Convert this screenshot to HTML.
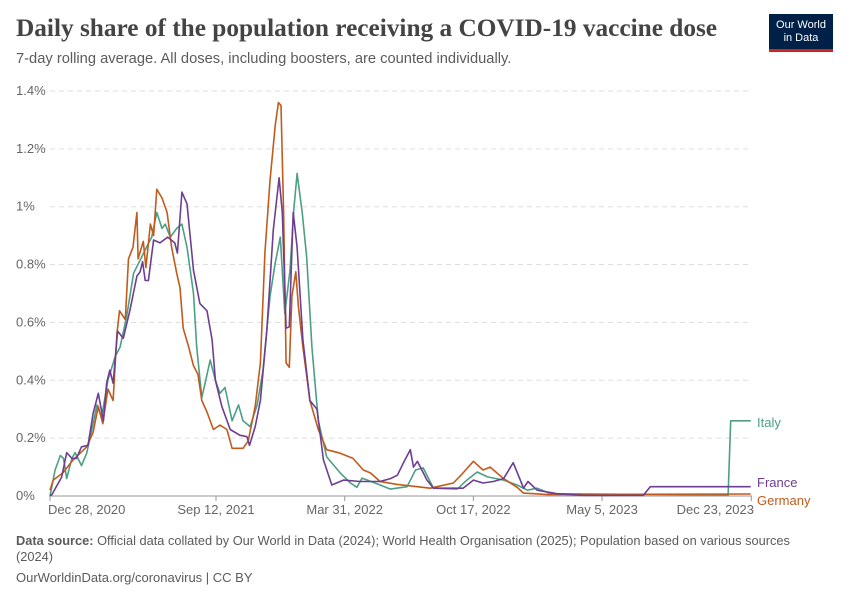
<!DOCTYPE html>
<html><head><meta charset="utf-8">
<style>
body{margin:0;width:850px;height:600px;background:#fff;font-family:"Liberation Sans",sans-serif;position:relative;overflow:hidden}
.t{position:absolute;white-space:nowrap}
</style></head><body>
<div class="t" style="left:16px;top:14px;font-family:'Liberation Serif',serif;font-weight:bold;font-size:25.3px;color:#444">Daily share of the population receiving a COVID-19 vaccine dose</div>
<div class="t" style="left:16px;top:51px;font-size:14.7px;color:#5b5b5b">7-day rolling average. All doses, including boosters, are counted individually.</div>
<div style="position:absolute;left:769px;top:14px;width:64px;height:38px;background:#002147;border-bottom:3px solid #ce261e;box-sizing:border-box;color:#fff;font-size:11px;line-height:13px;text-align:center;padding-top:5px">Our World<br>in Data</div>
<svg id="chart" width="850" height="600" style="position:absolute;left:0;top:0"></svg>
<div class="t" style="left:16px;top:533px;font-size:12.8px;color:#5b5b5b;white-space:normal;width:800px;line-height:16px"><b>Data source:</b> Official data collated by Our World in Data (2024); World Health Organisation (2025); Population based on various sources (2024)</div>
<div class="t" style="left:16px;top:570px;font-size:13px;color:#5b5b5b">OurWorldinData.org/coronavirus | CC BY</div>
<script>
const yTicks=[0,0.2,0.4,0.6,0.8,1,1.2,1.4];
const yTickLabels=["0%","0.2%","0.4%","0.6%","0.8%","1%","1.2%","1.4%"];
const xTickDays=[0,258,458,658,858,1090];
const xTickLabels=["Dec 28, 2020","Sep 12, 2021","Mar 31, 2022","Oct 17, 2022","May 5, 2023","Dec 23, 2023"];
const germanyDays=[0,5,20,36,57,67,75,82,90,98,104,108,117,122,129,135,137,145,149,156,161,166,174,182,189,197,202,207,215,223,230,236,244,254,264,275,283,300,308,319,327,334,342,350,355,359,363,367,372,376,382,386,393,404,417,430,451,471,487,498,513,540,591,627,642,658,673,684,705,726,736,773,1089];
const germanyVals=[0.02,0.055,0.08,0.125,0.17,0.22,0.31,0.25,0.37,0.33,0.56,0.64,0.61,0.82,0.86,0.98,0.82,0.88,0.79,0.94,0.9,1.06,1.03,0.98,0.86,0.77,0.72,0.58,0.52,0.45,0.42,0.33,0.29,0.23,0.245,0.23,0.165,0.165,0.19,0.31,0.46,0.84,1.09,1.28,1.36,1.35,0.98,0.46,0.445,0.69,0.775,0.655,0.515,0.33,0.23,0.16,0.148,0.13,0.09,0.08,0.05,0.04,0.027,0.045,0.08,0.12,0.09,0.1,0.06,0.03,0.01,0.005,0.007];
const franceDays=[0,3,18,26,34,41,49,59,67,75,83,88,93,98,105,114,124,135,140,144,148,153,161,171,183,194,198,205,213,223,233,244,252,257,267,280,295,306,310,319,327,337,347,356,361,367,372,378,384,393,404,415,425,438,456,482,513,529,540,549,560,565,571,586,596,642,658,673,689,705,720,731,736,743,757,788,829,922,933,1089];
const franceVals=[0,0.005,0.065,0.15,0.13,0.13,0.17,0.175,0.285,0.355,0.26,0.39,0.435,0.39,0.57,0.545,0.64,0.76,0.775,0.81,0.745,0.745,0.885,0.875,0.895,0.875,0.84,1.05,1.01,0.78,0.665,0.64,0.54,0.4,0.31,0.23,0.21,0.205,0.175,0.24,0.33,0.57,0.92,1.1,0.98,0.58,0.585,0.98,0.86,0.54,0.33,0.3,0.125,0.038,0.055,0.05,0.05,0.06,0.072,0.113,0.16,0.1,0.12,0.055,0.027,0.027,0.055,0.045,0.05,0.06,0.115,0.055,0.027,0.05,0.02,0.008,0.002,0.002,0.032,0.032];
const italyDays=[0,8,16,21,26,34,39,49,57,67,73,80,90,101,109,119,130,140,150,158,166,174,179,187,197,205,213,223,228,236,241,249,257,264,272,283,293,300,311,322,331,342,350,358,365,373,379,384,392,399,407,417,430,451,467,477,485,513,529,555,568,580,596,633,648,664,680,705,726,742,757,778,1054,1058,1089];
const italyVals=[0,0.09,0.14,0.13,0.06,0.13,0.15,0.105,0.148,0.25,0.315,0.27,0.4,0.48,0.515,0.62,0.77,0.815,0.86,0.895,0.98,0.925,0.94,0.895,0.925,0.94,0.86,0.7,0.515,0.34,0.39,0.47,0.4,0.355,0.375,0.26,0.315,0.26,0.24,0.315,0.435,0.69,0.805,0.895,0.63,0.78,0.99,1.115,0.98,0.825,0.515,0.26,0.135,0.08,0.045,0.03,0.062,0.038,0.024,0.032,0.09,0.097,0.027,0.024,0.055,0.083,0.066,0.055,0.038,0.02,0.027,0.008,0.003,0.26,0.26];
const NS="http://www.w3.org/2000/svg";
const svg=document.getElementById('chart');
const X=d=>50+d*0.6434;
const Y=v=>496-v*289.3;
function mk(tag,attrs){const e=document.createElementNS(NS,tag);for(const k in attrs)e.setAttribute(k,attrs[k]);svg.appendChild(e);return e;}
yTicks.forEach((v,i)=>{
  if(v>0){const g=mk('line',{x1:50,x2:752,y1:Y(v),y2:Y(v),stroke:'#ddd','stroke-dasharray':'5,4'});
  
  }
  const t=mk('text',{x:16,y:Y(v)+4,'font-size':13,fill:'#666','font-family':'Liberation Sans'});
  t.textContent=yTickLabels[i];
  
  
});
const ax=mk('line',{x1:50,x2:752,y1:496,y2:496,stroke:'#999'});


xTickDays.forEach((d,i)=>{
  const tk=mk('line',{x1:X(d),x2:X(d),y1:496,y2:501,stroke:'#999'});
  
  
  const anchor=i==0?'start':(i==xTickLabels.length-1?'end':'middle');
  const t=mk('text',{x:i==0?48:(i==xTickLabels.length-1?754:X(d)),y:514,'font-size':13,fill:'#666','text-anchor':anchor,'font-family':'Liberation Sans'});
  t.textContent=xTickLabels[i];
  
  
});
function series(days,vals,color,name,label,ly){
  const p=mk('path',{d:days.map((d,i)=>(i?'L':'M')+X(d).toFixed(1)+','+Y(vals[i]).toFixed(1)).join(''),fill:'none',stroke:color,'stroke-width':1.6,'stroke-linejoin':'round'});
  
  
  const t=mk('text',{x:757,y:ly,'font-size':13,fill:color,'font-family':'Liberation Sans'});
  t.textContent=label;
  
  
}
series(italyDays,italyVals,'#4c9f85','italy','Italy',427);
series(germanyDays,germanyVals,'#c15b1b','germany','Germany',505);
series(franceDays,franceVals,'#6d3e91','france','France',487);
</script>
</body></html>
